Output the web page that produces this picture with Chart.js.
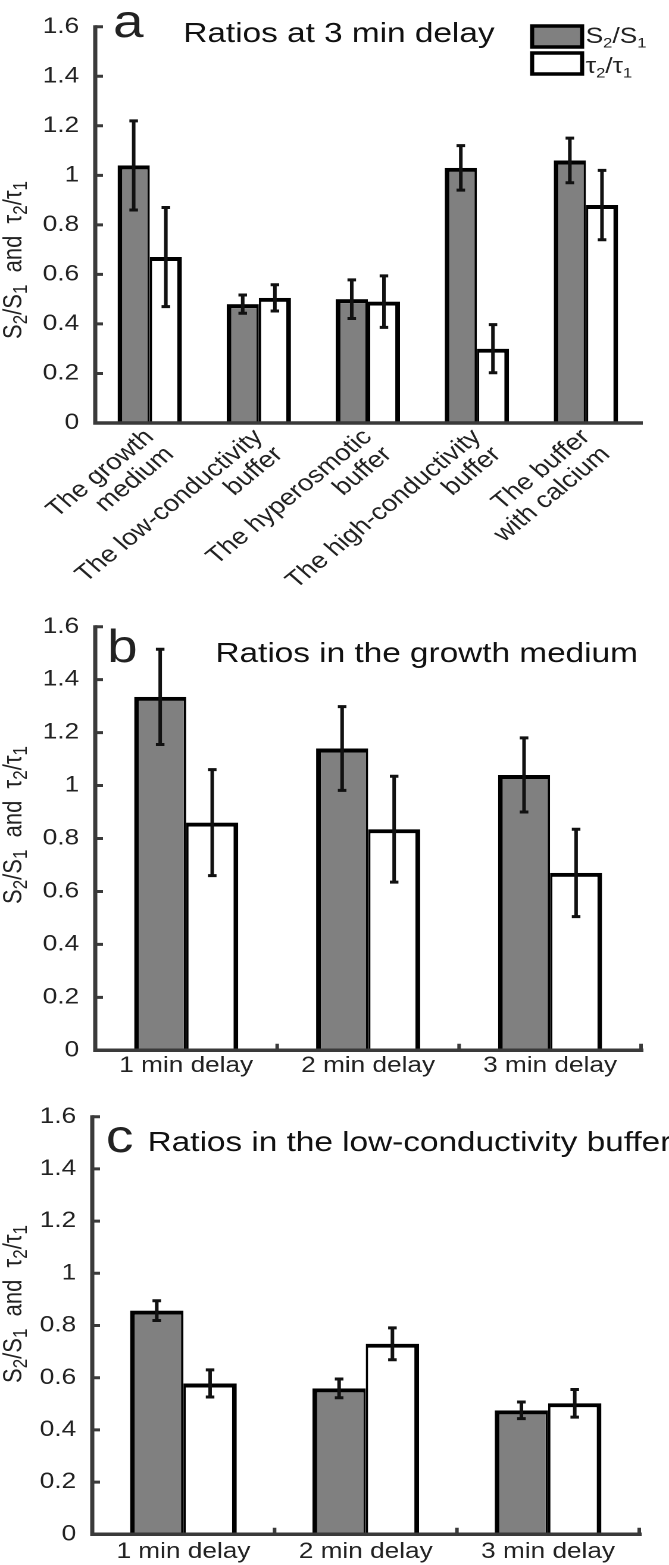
<!DOCTYPE html>
<html>
<head>
<meta charset="utf-8">
<script src="https://cdn.jsdelivr.net/npm/chart.js@4.4.1/dist/chart.umd.min.js"></script>
<style>
  html, body { margin: 0; padding: 0; background: #fff; }
  body { width: 669px; height: 1565px; position: relative; overflow: hidden; }
  /* the published figure is stretched sideways, so each panel is too */
  .panel { position: absolute; left: 0; width: 562px; transform: scaleX(1.1904); transform-origin: 0 0; }
  #panelA { top: 0; height: 600px; }
  #panelB { top: 600px; height: 490px; }
  #panelC { top: 1090px; height: 475px; }
</style>
</head>
<body>
<div class="panel" id="panelA"><canvas id="chartA"></canvas></div>
<div class="panel" id="panelB"><canvas id="chartB"></canvas></div>
<div class="panel" id="panelC"><canvas id="chartC"></canvas></div>
<script>
// ---- data ----
var seriesLabels = ['S\u2082/S\u2081', '\u03c4\u2082/\u03c4\u2081'];
var yAxisTitle = 'S\u2082/S\u2081  and  \u03c4\u2082/\u03c4\u2081';
var yTickLabels = ['0', '0.2', '0.4', '0.6', '0.8', '1', '1.2', '1.4', '1.6'];

var mediaLabels = [
    ['The growth', 'medium'],
    ['The low-conductivity', 'buffer'],
    ['The hyperosmotic', 'buffer'],
    ['The high-conductivity', 'buffer'],
    ['The buffer', 'with calcium']
];
var delayLabels = ['1 min delay', '2 min delay', '3 min delay'];

// a: ratios at 3 min delay
var sA = [1.04, 0.48, 0.50, 1.03, 1.06];
var sAErr = [0.18, 0.037, 0.078, 0.09, 0.09];
var tA = [0.67, 0.505, 0.49, 0.30, 0.88];
var tAErr = [0.20, 0.053, 0.104, 0.097, 0.14];

// b: growth medium
var sB = [1.335, 1.14, 1.04];
var sBErr = [0.18, 0.158, 0.14];
var tB = [0.86, 0.835, 0.67];
var tBErr = [0.20, 0.20, 0.165];

// c: low-conductivity buffer
var sC = [0.857, 0.559, 0.475];
var sCErr = [0.038, 0.036, 0.032];
var tC = [0.578, 0.73, 0.502];
var tCErr = [0.052, 0.061, 0.053];

// ---- drawing ----
var FONT = '"Liberation Sans", Arial, Helvetica, sans-serif';
var AXIS_COLOR = '#3a3a3a';
var TEXT_COLOR = '#222';
var SUBS = { '\u2081': '1', '\u2082': '2' };

// split text into normal / subscript runs
function richRuns(text) {
    var runs = [];
    for (var i = 0; i < text.length; i++) {
        var ch = text.charAt(i);
        var sub = !!SUBS[ch];
        var c = sub ? SUBS[ch] : ch;
        if (runs.length && runs[runs.length - 1].sub === sub) runs[runs.length - 1].text += c;
        else runs.push({ text: c, sub: sub });
    }
    return runs;
}

function drawRich(ctx, text, x, y, size, subScale, doDraw) {
    var runs = richRuns(text);
    var cx = x;
    for (var i = 0; i < runs.length; i++) {
        var r = runs[i];
        var s = r.sub ? Math.round(size * subScale) : size;
        ctx.font = s + 'px ' + FONT;
        if (doDraw) ctx.fillText(r.text, cx, r.sub ? y + size * 0.2 : y);
        cx += ctx.measureText(r.text).width;
    }
    return cx - x;
}

var paperPlugin = {
    id: 'paper',
    afterDatasetsDraw: function(chart, args, o) {
        var ctx = chart.ctx;
        var area = chart.chartArea;
        var xs = chart.scales.x;
        var ys = chart.scales.y;
        ctx.save();

        // error bars
        ctx.strokeStyle = '#111';
        ctx.lineWidth = 3;
        ctx.lineCap = 'butt';
        chart.data.datasets.forEach(function(ds, di) {
            var errs = o.errors[di];
            chart.getDatasetMeta(di).data.forEach(function(bar, i) {
                var hi = ys.getPixelForValue(ds.data[i] + errs[i]);
                var lo = ys.getPixelForValue(ds.data[i] - errs[i]);
                ctx.beginPath();
                ctx.moveTo(bar.x, hi); ctx.lineTo(bar.x, lo);
                ctx.moveTo(bar.x - o.cap, hi); ctx.lineTo(bar.x + o.cap, hi);
                ctx.moveTo(bar.x - o.cap, lo); ctx.lineTo(bar.x + o.cap, lo);
                ctx.stroke();
            });
        });

        // axis lines
        ctx.strokeStyle = AXIS_COLOR;
        ctx.lineWidth = 3.5;
        ctx.beginPath();
        ctx.moveTo(area.left, area.top - 1.5);
        ctx.lineTo(area.left, area.bottom);
        ctx.lineTo(area.right + 2, area.bottom);
        ctx.stroke();

        // inward ticks
        ctx.lineWidth = 3;
        ctx.beginPath();
        ys.ticks.forEach(function(t) {
            var py = ys.getPixelForValue(t.value);
            ctx.moveTo(area.left, py);
            ctx.lineTo(area.left + o.tick, py);
        });
        if (o.xTicks) {
            var n = chart.data.labels.length;
            var half = (xs.getPixelForTick(1) - xs.getPixelForTick(0)) / 2;
            for (var i = 0; i < n; i++) {
                var px = Math.min(xs.getPixelForTick(i) + half, area.right + 1);
                ctx.moveTo(px, area.bottom);
                ctx.lineTo(px, area.bottom - o.tick);
            }
        }
        ctx.stroke();
        ctx.restore();
    },
    afterDraw: function(chart, args, o) {
        var ctx = chart.ctx;
        ctx.save();
        ctx.textBaseline = 'alphabetic';
        ctx.textAlign = 'left';

        // panel letter and title
        ctx.fillStyle = TEXT_COLOR;
        ctx.font = '46px ' + FONT;
        ctx.fillText(o.letter, o.letterX, o.letterY);
        ctx.fillStyle = '#111';
        ctx.font = '28px ' + FONT;
        ctx.fillText(o.title, o.titleX, o.titleY);

        // y axis title, rotated
        ctx.fillStyle = TEXT_COLOR;
        var w = drawRich(ctx, yAxisTitle, 0, 0, 22, 0.75, false);
        ctx.save();
        ctx.translate(18, o.yTitleY);
        ctx.rotate(-Math.PI / 2);
        drawRich(ctx, yAxisTitle, -w / 2, 0, 22, 0.75, true);
        ctx.restore();

        // legend
        if (o.legend) {
            var lg = o.legend;
            var fills = ['#808080', '#ffffff'];
            ctx.lineWidth = 3.5;
            ctx.strokeStyle = '#000';
            for (var i = 0; i < 2; i++) {
                ctx.fillStyle = fills[i];
                ctx.fillRect(lg.x, lg.y[i], lg.w, lg.h);
                ctx.strokeRect(lg.x, lg.y[i], lg.w, lg.h);
                ctx.fillStyle = TEXT_COLOR;
                drawRich(ctx, seriesLabels[i], lg.x + lg.w + 3, lg.base[i], 22, 0.64, true);
            }
        }
        ctx.restore();
    }
};

function makeChart(id, c) {
    return new Chart(document.getElementById(id), {
        type: 'bar',
        data: {
            labels: c.labels,
            datasets: [{
                label: seriesLabels[0],
                data: c.s,
                backgroundColor: '#808080',
                borderColor: '#000',
                borderWidth: { top: 4, left: 4, right: 2, bottom: 0 },
                barPercentage: 1,
                categoryPercentage: c.catPct
            }, {
                label: seriesLabels[1],
                data: c.t,
                backgroundColor: '#ffffff',
                borderColor: '#000',
                borderWidth: { top: 4, left: 2, right: 4, bottom: 0 },
                barPercentage: 1,
                categoryPercentage: c.catPct
            }]
        },
        options: {
            responsive: true,
            maintainAspectRatio: false,
            animation: false,
            devicePixelRatio: 2,
            events: [],
            layout: { padding: { top: c.top, right: c.right, left: 0, bottom: 0 } },
            plugins: {
                legend: { display: false },
                tooltip: { enabled: false },
                paper: c.paper
            },
            scales: {
                x: {
                    grid: { display: false, drawTicks: false },
                    border: { display: false },
                    ticks: {
                        color: TEXT_COLOR,
                        font: { family: FONT, size: c.xFont, lineHeight: 1.05 },
                        padding: c.xPad,
                        autoSkip: false,
                        minRotation: c.rot,
                        maxRotation: c.rot
                    },
                    afterFit: function(s) { s.height = c.xHeight; }
                },
                y: {
                    min: 0,
                    max: 1.6,
                    grid: { display: false, drawTicks: false },
                    border: { display: false },
                    ticks: {
                        stepSize: 0.2,
                        color: TEXT_COLOR,
                        font: { family: FONT, size: 22 },
                        padding: 13.5,
                        callback: function(v, i) { return yTickLabels[i]; }
                    },
                    afterFit: function(s) { s.width = c.yWidth; }
                }
            }
        },
        plugins: [paperPlugin]
    });
}

makeChart('chartA', {
    labels: mediaLabels, s: sA, t: tA, catPct: 0.59,
    top: 12, right: 24, yWidth: 80, xHeight: 177,
    xFont: 23, xPad: 2, rot: 44,
    paper: {
        errors: [sAErr, tAErr], cap: 3.6, tick: 6.5, xTicks: false,
        letter: 'a', letterX: 95, letterY: 37,
        title: 'Ratios at 3 min delay', titleX: 154, titleY: 42,
        yTitleY: 260,
        legend: { x: 447, w: 42, h: 21, y: [26, 53], base: [43, 73] }
    }
});

makeChart('chartB', {
    labels: delayLabels, s: sB, t: tB, catPct: 0.572,
    top: 22.7, right: 23.5, yWidth: 80, xHeight: 39.7,
    xFont: 22, xPad: 4, rot: 0,
    paper: {
        errors: [sBErr, tBErr], cap: 3.6, tick: 6.5, xTicks: true,
        letter: 'b', letterX: 90, letterY: 62,
        title: 'Ratios in the growth medium', titleX: 181, titleY: 62,
        yTitleY: 225
    }
});

makeChart('chartC', {
    labels: delayLabels, s: sC, t: tC, catPct: 0.585,
    top: 16, right: 25, yWidth: 77.5, xHeight: 30.7,
    xFont: 22, xPad: 6, rot: 0,
    paper: {
        errors: [sCErr, tCErr], cap: 3.6, tick: 6.5, xTicks: true,
        letter: 'c', letterX: 89, letterY: 62,
        title: 'Ratios in the low-conductivity buffer', titleX: 124, titleY: 61,
        yTitleY: 214
    }
});
</script>
</body>
</html>
